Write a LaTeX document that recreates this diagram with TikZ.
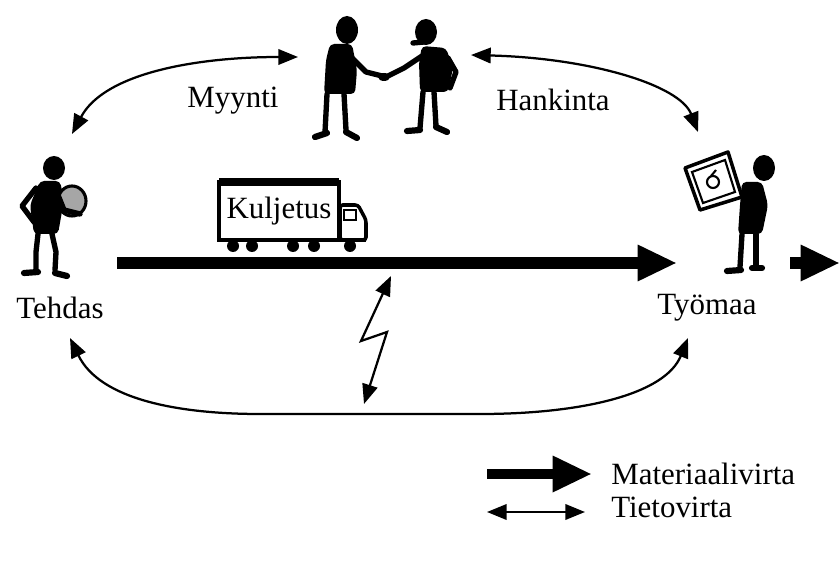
\documentclass[tikz,border=0pt]{standalone}
\usepackage{fontspec}
\setmainfont{Liberation Serif}
\usetikzlibrary{arrows.meta}

\tikzset{
  limb/.style={line width=3.8pt, line cap=round, line join=round},
  foot/.style={line width=4.4pt, line cap=round},
  info/.style={line width=1.6pt, {Triangle[length=14pt,width=11pt]}-{Triangle[length=14pt,width=11pt]}},
  flow/.style={line width=8.5pt, -{Triangle[length=28pt,width=24pt]}},
  lbl/.style={font=\fontsize{22}{25}\selectfont, inner sep=0pt},
}

\begin{document}
\begin{tikzpicture}[x=0.025cm, y=-0.025cm]
  \useasboundingbox (0,0) rectangle (840,563);

  % factory worker with a sack
  \fill (54,168) ellipse [x radius=11, y radius=12];
  \fill[rounded corners=3] (40,181) -- (60,181) -- (64,200) -- (58,234) -- (34,234) -- (30,205) -- cycle;
  \draw[limb] (36,188) -- (22,206) -- (34,222);
  \filldraw[fill=gray!70, line width=2.2pt] (72,201) ellipse [x radius=14, y radius=15];
  \draw[limb] (56,190) -- (64,210) -- (80,214);
  \draw[limb] (38,234) -- (36,252) -- (36,270);
  \draw[limb] (52,234) -- (56,252) -- (55,270);
  \draw[foot] (24,273) -- (38,272);
  \draw[foot] (55,273) -- (67,276);

  % seller and buyer shaking hands
  \fill (347,30) ellipse [x radius=11, y radius=14];
  \fill[rounded corners=3] (330,44) -- (352,44) -- (357,70) -- (355,94) -- (324,94) -- (326,60) -- cycle;
  \draw[limb] (352,58) -- (366,72) -- (382,76);
  \draw[limb] (327,94) -- (325,132);
  \draw[limb] (344,94) -- (346,130);
  \draw[foot] (315,137) -- (327,133);
  \draw[foot] (346,132) -- (357,138);

  \fill (426,32) ellipse [x radius=11, y radius=13];
  \draw[limb] (413,43) -- (424,42);
  \fill[rounded corners=3] (422,46) -- (446,48) -- (453,68) -- (448,92) -- (420,92) -- (419,62) -- cycle;
  \draw[limb] (422,56) -- (404,68) -- (388,76);
  \fill (384,77) ellipse [x radius=6, y radius=4];
  \draw[limb] (448,58) -- (456,72) -- (450,88);
  \draw[limb] (423,92) -- (420,128);
  \draw[limb] (434,92) -- (436,126);
  \draw[foot] (407,131) -- (420,130);
  \draw[foot] (436,127) -- (447,132);

  % site worker holding a picture
  \fill (764,168) ellipse [x radius=11, y radius=13];
  \fill[rounded corners=3] (742,182) -- (762,182) -- (768,205) -- (762,234) -- (738,234) -- (740,205) -- cycle;
  \draw[limb] (748,190) -- (734,198) -- (722,202);
  \draw[limb] (742,234) -- (740,267);
  \draw[limb] (756,234) -- (756,265);
  \draw[foot] (727,271) -- (741,270);
  \draw[foot] (752,268) -- (762,268);
  \filldraw[fill=white, line width=2.5pt, line join=round] (685,168) -- (728,152) -- (742,197) -- (700,210) -- cycle;
  \draw[line width=1.5pt] (692,172) -- (725,160) -- (735,192) -- (703,203) -- cycle;
  \draw[line width=1.5pt] (713,182) circle [radius=6];
  \draw[line width=1.5pt] (711,176) -- (716,170);

  % truck
  \draw[line width=3pt] (219,182) rectangle (339,240);
  \draw[line width=5pt] (219,182) -- (339,182);
  \node[lbl] (kuljetus) at (279,211) {Kuljetus};
  \draw[line width=2.5pt, rounded corners=2] (340,240) -- (340,205) -- (358,205) -- (366,220) -- (366,240) -- cycle;
  \draw[line width=1.5pt] (344,210) rectangle (356,220);
  \draw[line width=3.5pt] (219,240) -- (366,240);
  \foreach \wx in {233,252,293,314,350}
    \fill (\wx,246) circle [radius=6];

  % labels
  \node[lbl] (tehdas) at (60,308) {Tehdas};
  \node[lbl] (tyomaa) at (707,308) {Työmaa};
  \node[lbl] (myynti) at (233,101) {Myynti};
  \node[lbl] (hankinta) at (553,100) {Hankinta};

  % connector ends
  \coordinate (tehdasUp) at (72,134);
  \coordinate (tehdasDn) at (70,338);
  \coordinate (sellerL) at (298,57);
  \coordinate (buyerR) at (471,55);
  \coordinate (tyomaaUp) at (698,132);
  \coordinate (tyomaaDn) at (688,338);
  \coordinate (mStart) at (117,263);
  \coordinate (mEnd) at (677,263);
  \coordinate (outA) at (790,263);
  \coordinate (outB) at (840,263);
  \coordinate (zTop) at (391,276);
  \coordinate (zA) at (361,341);
  \coordinate (zB) at (387,332);
  \coordinate (zBot) at (364,404);

  % material flow
  \draw[flow] (mStart) -- (mEnd);
  \draw[flow] (outA) -- (outB);

  % information flows
  \draw[info] (tehdasUp) .. controls (105,72) and (200,57) .. (sellerL);
  \draw[info] (buyerR) .. controls (590,58) and (680,85) .. (tyomaaUp);
  \draw[info] (tehdasDn) .. controls (100,400) and (180,414) .. (260,414)
    -- (480,414) .. controls (580,414) and (665,395) .. (tyomaaDn);
  \draw[info] (zTop) -- (zA) -- (zB) -- (zBot);

  % legend
  \node[lbl, anchor=west] (mat) at (611,474) {Materiaalivirta};
  \node[lbl, anchor=west] (tieto) at (611,507) {Tietovirta};
  \coordinate (matA) at (487,474);
  \coordinate (matB) at (592,474);
  \coordinate (tietoA) at (487,512);
  \coordinate (tietoB) at (585,512);
  \draw[flow, line width=7pt] (matA) -- (matB);
  \draw[info] (tietoA) -- (tietoB);
\end{tikzpicture}
\end{document}
